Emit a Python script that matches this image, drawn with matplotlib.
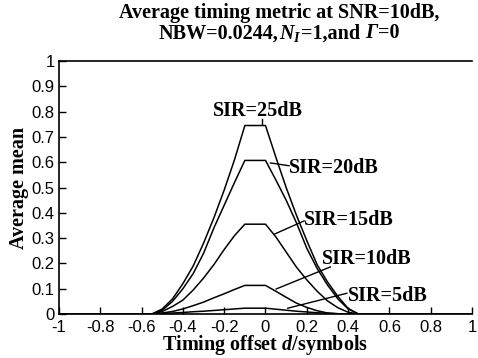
import numpy as np
import matplotlib
matplotlib.use('Agg')
import matplotlib.pyplot as plt
from matplotlib.offsetbox import TextArea, HPacker, AnnotationBbox

plt.rcParams['mathtext.fontset'] = 'custom'
plt.rcParams['mathtext.it'] = 'Liberation Serif:italic:bold'
plt.rcParams['mathtext.bf'] = 'Liberation Serif:bold'
plt.rcParams['mathtext.rm'] = 'Liberation Serif:bold'

# timing offset grid (symbols)
d = [-1.0, -0.55, -0.5, -0.45, -0.4, -0.35, -0.3, -0.25, -0.2, -0.15, -0.1, -0.05, 0.0,
     0.05, 0.1, 0.15, 0.2, 0.25, 0.3, 0.35, 0.4, 0.45, 1.0]

sir25 = [0, 0, 0.02, 0.06, 0.12, 0.19, 0.28, 0.38, 0.49, 0.61, 0.745, 0.745, 0.745,
         0.62, 0.50, 0.39, 0.29, 0.195, 0.127, 0.07, 0.022, 0, 0]
sir20 = [0, 0, 0.015, 0.05, 0.10, 0.16, 0.24, 0.34, 0.43, 0.52, 0.607, 0.607, 0.607,
         0.53, 0.45, 0.36, 0.26, 0.18, 0.115, 0.06, 0.02, 0, 0]
sir15 = [0, 0, 0.01, 0.03, 0.055, 0.095, 0.142, 0.195, 0.255, 0.31, 0.355, 0.355, 0.355,
         0.305, 0.245, 0.185, 0.135, 0.09, 0.052, 0.025, 0.007, 0, 0]
sir10 = [0, 0, 0.004, 0.01, 0.02, 0.033, 0.047, 0.064, 0.08, 0.097, 0.113, 0.113, 0.113,
         0.09, 0.066, 0.043, 0.026, 0.013, 0.004, 0.001, 0, 0, 0]
sir5 = [0, 0, 0.002, 0.004, 0.006, 0.009, 0.011, 0.014, 0.017, 0.02, 0.023, 0.023, 0.023,
        0.019, 0.015, 0.011, 0.008, 0.005, 0.003, 0.001, 0, 0, 0]

serif = ['Liberation Serif', 'DejaVu Serif']
sans = ['Liberation Sans', 'DejaVu Sans']
fs = 14.5

fig = plt.figure(figsize=(4.78, 3.58), dpi=100)
ax = fig.add_axes([59 / 478, 44 / 358, 413 / 478, 253 / 358])

for y in [sir25, sir20, sir15, sir10, sir5]:
    ax.plot(d, y, color='black', lw=1.1)

ax.set_xlim(-1, 1)
ax.set_ylim(0, 1)
ax.set_xticks(np.arange(-1, 1.01, 0.2))
ax.set_xticklabels(['-1', '-0.8', '-0.6', '-0.4', '-0.2', '0', '0.2', '0.4', '0.6', '0.8', '1'])
ax.set_yticks(np.arange(0, 1.01, 0.1))
ax.set_yticklabels(['0', '0.1', '0.2', '0.3', '0.4', '0.5', '0.6', '0.7', '0.8', '0.9', '1'])
ax.tick_params(direction='in', length=5, width=1, labelsize=12)
ax.tick_params(axis='x', pad=4)
ax.tick_params(axis='y', pad=3)
for lab in ax.get_xticklabels() + ax.get_yticklabels():
    lab.set_family(sans)
ax.spines['right'].set_visible(False)
for s in ['left', 'bottom', 'top']:
    ax.spines[s].set_linewidth(1.2)

ax.set_xlabel('Timing offset $\\mathit{d}$/symbols', family=serif, fontsize=fs,
              fontweight='bold', labelpad=-1)
ax.set_ylabel('Average mean', family=serif, fontsize=fs, fontweight='bold', labelpad=2)

fig.text(279 / 478, 345 / 358, 'Average timing metric at SNR=10dB,', family=serif,
         fontsize=fs, fontweight='bold', ha='center', va='center')

# second title line, built from pieces so that Gamma can be italic
tprops = dict(family=serif, fontsize=fs, fontweight='bold')
iprops = dict(family=serif, fontsize=fs, fontweight='bold', style='italic')
pieces = [TextArea('NBW=0.0244,', textprops=tprops),
          TextArea('$\\mathit{N}_{\\mathit{I}}$', textprops=tprops),
          TextArea('=1,and ', textprops=tprops),
          TextArea('Γ', textprops=iprops),
          TextArea('=0', textprops=tprops)]
line2 = HPacker(children=pieces, sep=0, pad=0, align='baseline')
fig.add_artist(AnnotationBbox(line2, (279 / 478, 325 / 358), xycoords='figure fraction',
                              frameon=False, box_alignment=(0.5, 0.5), pad=0))

lab_kw = dict(family=serif, fontsize=fs, fontweight='bold', va='center')

# labels with leader lines
ax.plot([-0.015, -0.015], [0.75, 0.772], color='black', lw=1)
ax.text(-0.038, 0.802, 'SIR=25dB', ha='center', **lab_kw)
ax.plot([0.024, 0.114], [0.597, 0.586], color='black', lw=1)
ax.text(0.114, 0.577, 'SIR=20dB', ha='left', **lab_kw)
ax.plot([0.044, 0.187], [0.316, 0.368], color='black', lw=1)
ax.text(0.187, 0.372, 'SIR=15dB', ha='left', **lab_kw)
ax.plot([0.052, 0.314], [0.099, 0.186], color='black', lw=1)
ax.text(0.272, 0.216, 'SIR=10dB', ha='left', **lab_kw)
ax.plot([0.108, 0.394], [0.023, 0.082], color='black', lw=1)
ax.text(0.40, 0.073, 'SIR=5dB', ha='left', **lab_kw)

fig.savefig('out.png', dpi=100)
